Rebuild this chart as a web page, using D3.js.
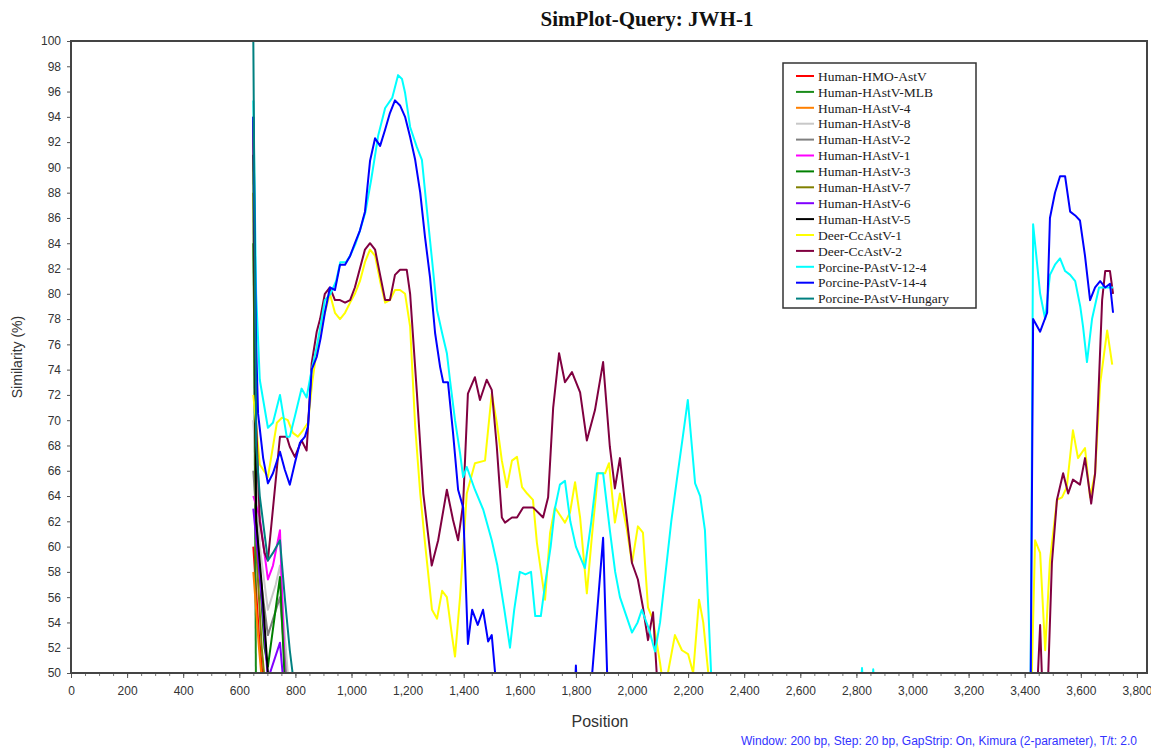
<!DOCTYPE html>
<html>
<head>
<meta charset="utf-8">
<script src="https://cdn.jsdelivr.net/npm/d3@7"></script>
<style>
  body { margin: 0; background: #fff; }
  svg { display: block; }
</style>
</head>
<body>
<svg id="chart" width="1151" height="750"></svg>
<script>
// series: [position, similarity]; values under 50 fall off the plot bottom
const humanHMO = [[650, 60], [670, 53], [690, 48]];
const humanMLB = [[650, 91], [660, 46]];
const humanH4 = [[650, 58], [670, 52], [690, 47]];
const humanH8 = [[650, 70], [673, 60], [702, 55], [730, 57], [745, 58.5], [762, 53], [780, 48]];
const humanH2 = [[650, 66], [673, 58], [702, 53], [745, 56], [770, 49]];
const humanH1 = [[650, 64], [673, 62.3], [702, 57.4], [720, 58.5], [745, 61.3], [762, 50], [770, 47]];
const humanH3 = [[650, 84], [660, 62], [690, 52], [702, 50.5], [745, 57.6], [765, 48]];
const humanH7 = [[650, 88], [660, 60], [680, 52], [700, 47]];
const humanH6 = [[650, 63], [680, 56], [702, 49.5], [745, 52.4], [762, 48]];
const humanH5 = [[650, 94], [660, 62], [680, 57], [702, 50], [720, 47]];

const deer1 = [[650, 72], [673, 66.5], [702, 65.5], [734, 69.8], [752, 70.2], [773, 70], [791, 69], [809, 68.7],
  [827, 69.2], [845, 69.8], [860, 73], [876, 75.5], [888, 77], [905, 78.5], [923, 80], [941, 78.5], [959, 78],
  [977, 78.5], [995, 79.3], [1012, 80], [1030, 81], [1048, 82.5], [1066, 83.5], [1084, 83], [1102, 81],
  [1120, 79.3], [1137, 79.5], [1155, 80.3], [1173, 80.3], [1191, 80], [1209, 77.4], [1227, 69.5], [1245, 64.2],
  [1262, 60.3], [1287, 55], [1305, 54.3], [1323, 56.5], [1340, 56], [1358, 53], [1369, 51.3], [1387, 56],
  [1411, 64.2], [1440, 66.6], [1476, 66.8], [1500, 72.1], [1518, 69.8], [1536, 66.8], [1554, 64.7], [1572, 66.8],
  [1590, 67.1], [1608, 64.7], [1626, 64.2], [1647, 63.7], [1661, 60.3], [1690, 55.8], [1708, 61.1], [1725, 63.1],
  [1743, 62.5], [1761, 61.9], [1779, 62.7], [1797, 65.1], [1815, 62.3], [1839, 56.3], [1857, 60.8], [1879, 65.8],
  [1904, 65.8], [1918, 66.6], [1939, 61.9], [1957, 64.2], [1982, 61.3], [2000, 58.7], [2021, 61.6], [2039, 61.1],
  [2057, 55.2], [2075, 54.2], [2100, 50.8], [2111, 49], [2128, 50], [2153, 53], [2178, 51.8], [2200, 51.5],
  [2218, 50], [2239, 55.8], [2254, 54], [2272, 50], [2280, 45], [3420, 45], [3437, 60.5], [3455, 59.5],
  [3473, 51.8], [3490, 58.9], [3515, 63.7], [3533, 63.9], [3550, 64.7], [3572, 69.2], [3590, 67], [3615, 67.8],
  [3633, 63.9], [3651, 65.8], [3669, 72.9], [3694, 77.1], [3712, 74.4]];

const deer2 = [[650, 93.7], [660, 70], [673, 62], [690, 59.5], [702, 58.9], [720, 63], [745, 68.7], [769, 68.7],
  [780, 67.9], [798, 67.1], [822, 68.4], [840, 67.6], [858, 74.5], [876, 77], [888, 78], [905, 80], [923, 80.5],
  [941, 79.5], [959, 79.5], [977, 79.3], [995, 79.5], [1012, 80.5], [1030, 82], [1048, 83.5], [1066, 84],
  [1084, 83.5], [1102, 81.5], [1120, 79.5], [1137, 79.5], [1155, 81.5], [1173, 81.9], [1197, 81.9], [1209, 80],
  [1233, 72.2], [1256, 64.2], [1286, 58.5], [1309, 60.5], [1340, 64.5], [1362, 62.1], [1380, 60.5], [1398, 63.4],
  [1415, 72.1], [1440, 73.4], [1458, 71.6], [1482, 73.2], [1500, 72.4], [1518, 67.9], [1536, 62.3], [1547, 61.9],
  [1572, 62.3], [1590, 62.3], [1612, 63.1], [1647, 63.1], [1683, 62.3], [1701, 63.9], [1719, 71], [1740, 75.3],
  [1761, 73], [1786, 73.8], [1815, 72.2], [1839, 68.4], [1868, 70.8], [1897, 74.6], [1921, 67.9], [1939, 64.6],
  [1957, 67], [1975, 63.4], [2000, 58.7], [2021, 57.4], [2039, 55.2], [2057, 52.6], [2075, 54.8], [2088, 50],
  [2095, 45], [3437, 45], [3455, 53.8], [3469, 45], [3484, 50], [3497, 58.7], [3515, 63.7], [3537, 65.8],
  [3555, 64.2], [3572, 65.3], [3597, 64.9], [3615, 67], [3637, 63.4], [3651, 65.8], [3662, 71.6], [3676, 79.5],
  [3687, 81.8], [3704, 81.8], [3715, 80]];

const porcine124 = [[650, 95.3], [660, 80], [673, 73.2], [702, 69.4], [720, 69.8], [745, 72], [769, 68.7],
  [780, 68.7], [798, 70.3], [822, 72.5], [840, 71.8], [858, 74], [876, 75.8], [890, 77.5], [905, 79.5], [925, 80],
  [945, 81], [960, 82.5], [980, 82.5], [995, 83], [1015, 84], [1030, 85], [1050, 86.5], [1070, 89], [1095, 92.5],
  [1120, 94.7], [1145, 95.5], [1166, 97.3], [1180, 97], [1191, 95.9], [1209, 93.2], [1233, 91.6], [1251, 90.6],
  [1269, 86.6], [1287, 82.7], [1305, 78.7], [1323, 76.9], [1340, 75.3], [1351, 73.2], [1369, 70], [1387, 67.4],
  [1398, 65.5], [1411, 66.3], [1440, 64.5], [1470, 62.9], [1500, 60.5], [1520, 58.5], [1545, 55], [1565, 52],
  [1580, 55], [1600, 58], [1620, 57.8], [1640, 58], [1655, 54.5], [1675, 54.5], [1690, 57], [1710, 60],
  [1725, 63], [1743, 64.9], [1761, 65.2], [1780, 62], [1800, 60], [1832, 58.3], [1855, 62], [1875, 65.8],
  [1897, 65.8], [1921, 61.3], [1940, 58], [1957, 56], [1980, 54.5], [2000, 53.2], [2020, 54], [2035, 55],
  [2060, 53.5], [2082, 51.7], [2100, 54], [2120, 58], [2140, 62], [2160, 65.3], [2180, 68.5], [2199, 71.6],
  [2225, 65], [2243, 64], [2260, 61.3], [2282, 50], [2290, 45], [2810, 45], [2820, 50.4], [2835, 45],
  [2850, 45], [2860, 50.3], [2872, 45], [3420, 45], [3430, 85.5], [3455, 80], [3473, 78], [3490, 81.5],
  [3508, 82.3], [3526, 82.8], [3544, 81.8], [3562, 81.5], [3580, 81], [3598, 79], [3608, 77.4], [3622, 74.6],
  [3640, 78], [3665, 80.5], [3690, 80.5], [3715, 80.5]];

const porcine144 = [[650, 94], [660, 76], [667, 70.5], [685, 67], [702, 65], [720, 65.8], [745, 67.5], [762, 66.1],
  [780, 64.9], [798, 66.6], [816, 68.2], [834, 68.7], [845, 69.5], [858, 74], [876, 75], [890, 76.5], [905, 78.5],
  [923, 80.5], [941, 80.3], [959, 82.3], [977, 82.3], [995, 83], [1012, 84], [1030, 85], [1048, 86.5],
  [1066, 90.5], [1084, 92.3], [1102, 91.7], [1120, 93], [1137, 94.3], [1155, 95.3], [1173, 94.9], [1191, 94],
  [1209, 92.4], [1227, 90.6], [1245, 88], [1262, 84.5], [1280, 81.3], [1298, 76.9], [1316, 74.2], [1327, 73],
  [1344, 73], [1362, 69], [1380, 64.5], [1398, 63.1], [1415, 52.3], [1430, 55], [1450, 53.8], [1469, 55],
  [1487, 52.5], [1500, 53], [1512, 50], [1520, 45], [1790, 45], [1800, 50.6], [1810, 45], [1840, 45],
  [1897, 60.7], [1918, 45], [3420, 45], [3430, 78], [3455, 77], [3480, 78.5], [3490, 86], [3508, 88],
  [3526, 89.3], [3544, 89.3], [3562, 86.5], [3580, 86.2], [3597, 85.8], [3615, 83], [3633, 79.5], [3651, 80.5],
  [3669, 81], [3687, 80.5], [3704, 80.8], [3715, 78.5]];

const porcineHungary = [[650, 100], [660, 68], [673, 64], [702, 58.9], [720, 59.5], [745, 60.5], [762, 56],
  [780, 51.8], [790, 50], [800, 45]];

const seriesNames = ["Human-HMO-AstV", "Human-HAstV-MLB", "Human-HAstV-4", "Human-HAstV-8", "Human-HAstV-2",
  "Human-HAstV-1", "Human-HAstV-3", "Human-HAstV-7", "Human-HAstV-6", "Human-HAstV-5", "Deer-CcAstV-1",
  "Deer-CcAstV-2", "Porcine-PAstV-12-4", "Porcine-PAstV-14-4", "Porcine-PAstV-Hungary"];
const seriesColors = ["#ff0000", "#1a8c1a", "#ff8000", "#c8c8c8", "#808080", "#ff00ff", "#008000", "#808000",
  "#8000ff", "#000000", "#ffff00", "#800040", "#00ffff", "#0000ff", "#008080"];
const seriesData = [humanHMO, humanMLB, humanH4, humanH8, humanH2, humanH1, humanH3, humanH7, humanH6, humanH5,
  deer1, deer2, porcine124, porcine144, porcineHungary];

const yTicks = d3.range(50, 101, 2);
const xTicks = d3.range(0, 3801, 200);
const xMinor = d3.range(0, 3801, 50);

const svg = d3.select("#chart");
const plotLeft = 71, plotRight = 1147, plotTop = 41, plotBottom = 673;

const x = d3.scaleLinear().domain([0, 3836]).range([plotLeft, plotRight]);
const y = d3.scaleLinear().domain([50, 100]).range([plotBottom, plotTop]);

svg.append("defs").append("clipPath").attr("id", "plotclip")
  .append("rect")
  .attr("x", plotLeft).attr("y", plotTop)
  .attr("width", plotRight - plotLeft).attr("height", plotBottom - plotTop);

// title
svg.append("text")
  .attr("x", 647).attr("y", 26)
  .attr("text-anchor", "middle")
  .attr("font-family", "Liberation Serif, Times New Roman, serif")
  .attr("font-weight", "bold")
  .attr("font-size", 21)
  .attr("fill", "#111")
  .text("SimPlot-Query: JWH-1");

// axes
const yAxis = svg.append("g")
  .attr("transform", `translate(${plotLeft},0)`)
  .call(d3.axisLeft(y).tickValues(yTicks).tickSize(4).tickPadding(6));
yAxis.select(".domain").remove();
yAxis.selectAll("text")
  .attr("font-family", "Liberation Sans, Arial, sans-serif")
  .attr("font-size", 12).attr("fill", "#333");
yAxis.selectAll("line").attr("stroke", "#555");

const xAxisMinor = svg.append("g")
  .attr("transform", `translate(0,${plotBottom})`)
  .call(d3.axisBottom(x).tickValues(xMinor).tickSize(3).tickFormat(""));
xAxisMinor.select(".domain").remove();
xAxisMinor.selectAll("line").attr("stroke", "#777");

const xAxis = svg.append("g")
  .attr("transform", `translate(0,${plotBottom})`)
  .call(d3.axisBottom(x).tickValues(xTicks).tickSize(5).tickPadding(8).tickFormat(d3.format(",")));
xAxis.select(".domain").remove();
xAxis.selectAll("text")
  .attr("font-family", "Liberation Sans, Arial, sans-serif")
  .attr("font-size", 12).attr("fill", "#333");
xAxis.selectAll("line").attr("stroke", "#555");

// lines
const line = d3.line()
  .x(d => x(d[0]))
  .y(d => y(d[1]));

const plot = svg.append("g").attr("clip-path", "url(#plotclip)");
seriesData.forEach((data, i) => {
  plot.append("path")
    .datum(data)
    .attr("fill", "none")
    .attr("stroke", seriesColors[i])
    .attr("stroke-width", 2)
    .attr("stroke-linejoin", "round")
    .attr("d", line);
});

// frame
svg.append("rect")
  .attr("x", plotLeft).attr("y", plotTop)
  .attr("width", plotRight - plotLeft).attr("height", plotBottom - plotTop)
  .attr("fill", "none")
  .attr("stroke", "#444")
  .attr("stroke-width", 2);

// axis titles
svg.append("text")
  .attr("transform", `translate(22,${(plotTop + plotBottom) / 2}) rotate(-90)`)
  .attr("text-anchor", "middle")
  .attr("font-family", "Liberation Sans, Arial, sans-serif")
  .attr("font-size", 14).attr("fill", "#333")
  .text("Similarity (%)");

svg.append("text")
  .attr("x", 600).attr("y", 727)
  .attr("text-anchor", "middle")
  .attr("font-family", "Liberation Sans, Arial, sans-serif")
  .attr("font-size", 16).attr("fill", "#333")
  .text("Position");

svg.append("text")
  .attr("x", 1137).attr("y", 745)
  .attr("text-anchor", "end")
  .attr("font-family", "Liberation Sans, Arial, sans-serif")
  .attr("font-size", 12).attr("fill", "#3333ff")
  .text("Window: 200 bp, Step: 20 bp, GapStrip: On, Kimura (2-parameter), T/t: 2.0");

// legend
const lg = svg.append("g").attr("transform", "translate(783,63)");
lg.append("rect")
  .attr("width", 193).attr("height", 245)
  .attr("fill", "#fff").attr("stroke", "#333").attr("stroke-width", 1.5);
seriesNames.forEach((name, i) => {
  const row = lg.append("g").attr("transform", `translate(0,${13 + i * 15.9})`);
  row.append("line")
    .attr("x1", 13).attr("x2", 31)
    .attr("stroke", seriesColors[i]).attr("stroke-width", 2);
  row.append("text")
    .attr("x", 35).attr("dy", "0.35em")
    .attr("font-family", "Liberation Serif, Times New Roman, serif")
    .attr("font-size", 13.5).attr("fill", "#222")
    .text(name);
});
</script>
</body>
</html>
